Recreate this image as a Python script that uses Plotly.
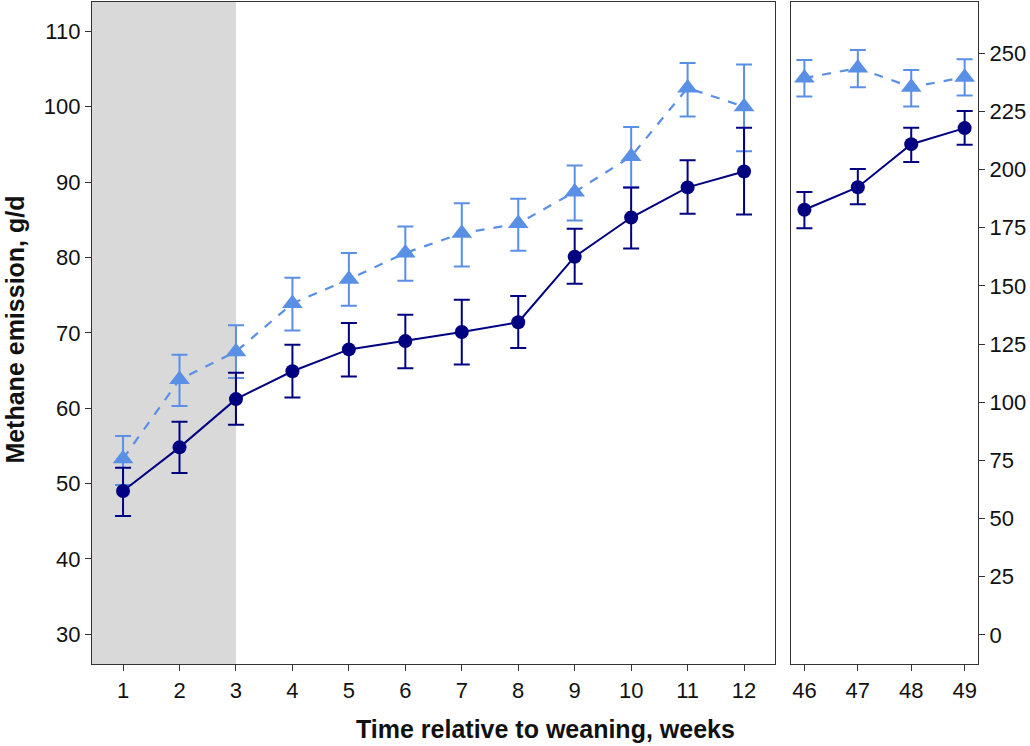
import plotly.graph_objects as go
from plotly.subplots import make_subplots

# early weeks (left panel)
weeks_early = [1, 2, 3, 4, 5, 6, 7, 8, 9, 10, 11, 12]
dark_early = [49.0, 54.8, 61.2, 64.9, 67.8, 68.9, 70.1, 71.4, 80.1, 85.3, 89.3, 91.4]
dark_early_hi = [52.1, 58.2, 64.7, 68.4, 71.3, 72.4, 74.4, 74.9, 83.8, 89.3, 92.9, 97.2]
dark_early_lo = [45.7, 51.4, 57.8, 61.4, 64.2, 65.3, 65.8, 68.0, 76.5, 81.2, 85.8, 85.7]
light_early = [53.3, 63.8, 67.5, 73.9, 77.1, 80.6, 83.2, 84.5, 88.7, 93.4, 102.5, 100.0]
light_early_hi = [56.3, 67.1, 71.0, 77.3, 80.6, 84.1, 87.2, 87.8, 92.2, 97.3, 105.8, 105.6]
light_early_lo = [49.8, 60.3, 64.0, 70.3, 73.6, 76.9, 78.8, 80.9, 84.9, 89.3, 98.7, 94.1]

# late weeks (right panel)
weeks_late = [46, 47, 48, 49]
dark_late = [182.7, 192.4, 210.9, 217.8]
dark_late_hi = [190.3, 200.2, 218.0, 225.2]
dark_late_lo = [174.8, 185.1, 203.2, 210.7]
light_late = [239.3, 243.6, 235.4, 239.7]
light_late_hi = [247.1, 251.4, 242.8, 247.4]
light_late_lo = [231.4, 235.4, 227.1, 231.8]

dark = "#000080"
light = "#5A8FE6"
axis_col = "#333333"
font_family = "Liberation Sans, Arial, sans-serif"


def err(y, hi, lo):
    return dict(type="data", symmetric=False,
                array=[h - v for h, v in zip(hi, y)],
                arrayminus=[v - l for v, l in zip(y, lo)])


fig = make_subplots(rows=1, cols=2)

for col, x, dy, dhi, dlo, ly, lhi, llo in [
    (1, weeks_early, dark_early, dark_early_hi, dark_early_lo,
     light_early, light_early_hi, light_early_lo),
    (2, weeks_late, dark_late, dark_late_hi, dark_late_lo,
     light_late, light_late_hi, light_late_lo),
]:
    fig.add_trace(go.Scatter(
        x=x, y=ly, mode="lines+markers",
        line=dict(color=light, width=2.2, dash="dash"),
        marker=dict(symbol="triangle-up", size=18, color=light),
        error_y=dict(**err(ly, lhi, llo), color=light, thickness=2, width=8),
        showlegend=False), row=1, col=col)
    fig.add_trace(go.Scatter(
        x=x, y=dy, mode="lines+markers",
        line=dict(color=dark, width=2),
        marker=dict(symbol="circle", size=14, color=dark),
        error_y=dict(**err(dy, dhi, dlo), color=dark, thickness=2, width=8),
        showlegend=False), row=1, col=col)

# shaded pre-weaning period
fig.add_shape(type="rect", xref="x", yref="y domain", x0=0.45, x1=3, y0=0, y1=1,
              fillcolor="#D9D9D9", line_width=0, layer="below")

axis_common = dict(showline=True, linecolor=axis_col, linewidth=1.3, mirror=True,
                   ticks="outside", ticklen=6, tickwidth=1.3, tickcolor=axis_col,
                   showgrid=False, zeroline=False,
                   tickfont=dict(size=22, color="#111111", family=font_family))

fig.update_layout(
    width=1030, height=746,
    margin=dict(l=92, r=52, t=2, b=82),
    plot_bgcolor="white", paper_bgcolor="white",
    font=dict(family=font_family),
    xaxis=dict(domain=[0, 0.771], range=[0.45, 12.55],
               tickvals=weeks_early, **axis_common),
    xaxis2=dict(domain=[0.789, 1], range=[45.75, 49.25],
                tickvals=weeks_late, **axis_common),
    yaxis=dict(range=[26.05, 113.9], tickvals=[30, 40, 50, 60, 70, 80, 90, 100, 110],
               **axis_common),
    yaxis2=dict(range=[-12.5, 272], side="right", anchor="x2",
                tickvals=[0, 25, 50, 75, 100, 125, 150, 175, 200, 225, 250],
                **axis_common),
    annotations=[
        dict(text="<b>Time relative to weaning, weeks</b>", xref="paper", yref="paper",
             x=0.512, y=-0.098, xanchor="center", yanchor="middle", showarrow=False,
             font=dict(size=25, color="#111111")),
        dict(text="<b>Methane emission, g/d</b>", xref="paper", yref="paper",
             x=-0.087, y=0.505, xanchor="center", yanchor="middle", textangle=-90,
             showarrow=False, font=dict(size=25, color="#111111")),
    ],
)

fig.write_html("out.html", config={"displayModeBar": False},
               post_script="document.body.style.margin='0px';")
